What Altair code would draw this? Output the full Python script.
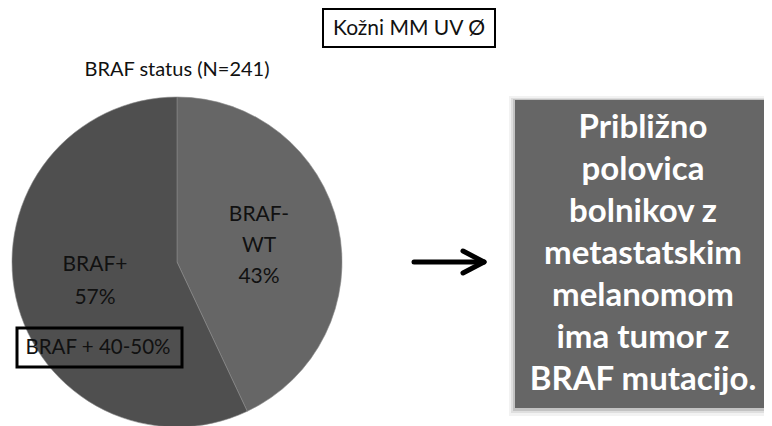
import altair as alt
import pandas as pd

# ---- data ----
categories = ["BRAF-WT", "BRAF+"]
shares = [43, 57]
slice_labels = ["BRAF-\nWT\n43%", "BRAF+\n57%"]
slice_colors = ["#666666", "#4f4f4f"]
chart_title = "BRAF status (N=241)"
top_box_text = "Kožni MM UV Ø"
side_box_text = "BRAF + 40-50%"
message_lines = ["Približno", "polovica", "bolnikov z", "metastatskim",
                 "melanomom", "ima tumor z", "BRAF mutacijo."]

FONT = "Lato"
W, H = 756, 418
CX, CY, R = 169, 254, 165

pie_df = pd.DataFrame({"category": categories, "share": shares,
                       "label": slice_labels, "rank": [0, 1]})

pie = alt.Chart(pie_df).mark_arc(radius=R, stroke="#8a8a8a", strokeWidth=0.6).encode(
    theta=alt.Theta("share:Q", stack=True),
    order=alt.Order("rank:Q", sort="ascending"),
    x=alt.value(CX), y=alt.value(CY),
    color=alt.Color("category:N",
                    scale=alt.Scale(domain=categories, range=slice_colors),
                    legend=None)
)

label_base = alt.Chart(pie_df).transform_stack(
    stack="share", groupby=[], as_=["s0", "s1"],
    sort=[alt.SortField("rank", order="ascending")]
).transform_joinaggregate(
    total="sum(share)"
).transform_calculate(
    ang="(datum.s0 + datum.s1) / datum.total * PI"
)


def pie_label(cat, dy, lh):
    return label_base.transform_filter(alt.datum.category == cat).mark_text(
        radius=84, lineBreak="\n", fontSize=21, lineHeight=lh,
        font=FONT, color="#111111", baseline="middle",
        align="center", dy=dy).encode(
        theta=alt.Theta("ang:Q", scale=None, stack=None),
        x=alt.value(CX), y=alt.value(CY),
        text="label:N")


pie_text = pie_label(categories[0], -29, 31) + pie_label(categories[1], -15, 33)

one = pd.DataFrame({"k": [0]})


def txt(text, x, y, size, **kw):
    return alt.Chart(one).mark_text(font=FONT, fontSize=size, baseline="middle",
                                    align="center", **kw).encode(
        x=alt.value(x), y=alt.value(y), text=alt.value(text))


def box(x, x2, y, y2, **kw):
    return alt.Chart(one).mark_rect(**kw).encode(
        x=alt.value(x), x2=alt.value(x2), y=alt.value(y), y2=alt.value(y2))


def seg(x, x2, y, y2, w=5):
    return alt.Chart(one).mark_rule(strokeWidth=w, color="black",
                                    strokeCap="round").encode(
        x=alt.value(x), x2=alt.value(x2), y=alt.value(y), y2=alt.value(y2))


title = txt(chart_title, 169, 62, 20, color="#111111")
top_box = box(315, 487, 1, 39, fillOpacity=0, stroke="black", strokeWidth=2)
top_text = txt(top_box_text, 401, 21, 21, color="#111111")

side_box = box(9, 174, 320, 359, fillOpacity=0, stroke="black", strokeWidth=3)
side_text = txt(side_box_text, 90, 340, 20.5, color="#111111")

arrow = seg(406, 474, 254, 254) + seg(455, 476, 243, 254) + seg(455, 476, 265, 254)

shadow = (box(501, 770, 88, 408, color="#000000", opacity=0.05) +
          box(503, 768, 90, 405, color="#000000", opacity=0.08) +
          box(505, 766, 91, 403, color="#000000", opacity=0.12))
msg_box = box(507, 764, 92, 400, color="#666666")
msg_text = alt.Chart(one).mark_text(font=FONT, fontSize=33, fontWeight="bold",
                                    color="white", lineBreak="\n", lineHeight=42,
                                    baseline="middle", align="center").encode(
    x=alt.value(635), y=alt.value(120), text=alt.value("\n".join(message_lines)))

chart = alt.layer(
    pie, pie_text, title, top_box, top_text, side_box, side_text,
    arrow, shadow, msg_box, msg_text
).properties(
    width=W, height=H, padding=0, autosize=alt.AutoSizeParams(type="none"),
    background="white"
).configure_view(strokeWidth=0)

chart.save("out.html", embed_options={"renderer": "svg", "actions": False})
